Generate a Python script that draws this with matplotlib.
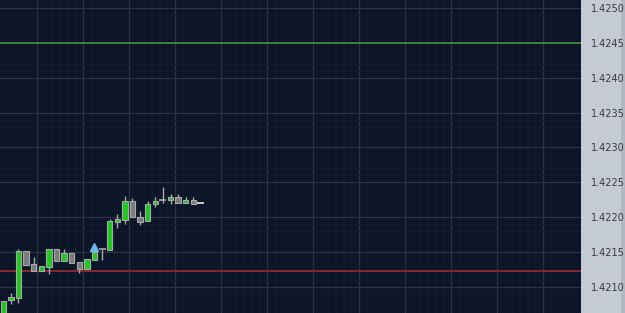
import numpy as np
import matplotlib
matplotlib.use("Agg")
import matplotlib.pyplot as plt

# OHLC per bar
opens = [1.42060, 1.42081, 1.42085, 1.42151, 1.42133, 1.42123, 1.42129, 1.42154, 1.42138,
         1.42149, 1.42136, 1.42126, 1.42139, 1.42154, 1.42153, 1.42193, 1.42196, 1.42224,
         1.42201, 1.42194, 1.42219, 1.42225, 1.42225, 1.42229, 1.42221, 1.42225, 1.42220]
highs = [1.42080, 1.42091, 1.42155, 1.42151, 1.42143, 1.42130, 1.42154, 1.42154, 1.42154,
         1.42149, 1.42136, 1.42140, 1.42150, 1.42154, 1.42198, 1.42204, 1.42230, 1.42228,
         1.42209, 1.42224, 1.42229, 1.42243, 1.42234, 1.42234, 1.42229, 1.42229, 1.42220]
lows = [1.42055, 1.42076, 1.42077, 1.42132, 1.42123, 1.42123, 1.42119, 1.42138, 1.42138,
        1.42135, 1.42120, 1.42126, 1.42139, 1.42139, 1.42153, 1.42185, 1.42191, 1.42200,
        1.42189, 1.42194, 1.42215, 1.42221, 1.42219, 1.42221, 1.42220, 1.42219, 1.42220]
closes = [1.42080, 1.42086, 1.42151, 1.42132, 1.42123, 1.42130, 1.42154, 1.42138, 1.42149,
          1.42135, 1.42126, 1.42140, 1.42150, 1.42154, 1.42194, 1.42197, 1.42224, 1.42200,
          1.42193, 1.42219, 1.42224, 1.42225, 1.42229, 1.42221, 1.42225, 1.42219, 1.42220]

upper_level = 1.42450
lower_level = 1.42123
signal_bar = 12
signal_price = 1.42157

y_ticks = [1.4210, 1.4215, 1.4220, 1.4225, 1.4230, 1.4235, 1.4240, 1.4245, 1.4250]

BG = "#0c1528"
PANEL = "#c4cbd4"
GREEN = "#1ec81e"
GRAY = "#7c7c7c"
EDGE = "#a8a8a8"

fig = plt.figure(figsize=(6.25, 3.13), dpi=100, facecolor=PANEL)

# darker strip on the far right edge of the price panel
strip = fig.add_axes([621 / 625, 0, 4 / 625, 1], zorder=-1)
strip.set_facecolor("#b0b8c3")
strip.set_axis_off()
strip.add_patch(plt.Rectangle((0, 0), 1, 1, color="#b0b8c3"))

ax = fig.add_axes([0, 0, 581 / 625, 1], zorder=1)
ax.set_facecolor(BG)

x = np.arange(len(opens))
o = np.array(opens)
c = np.array(closes)
h = np.array(highs)
l = np.array(lows)

# grid
ax.set_xlim(-0.43, 76.0)
ax.set_ylim(1.420628, 1.425114)
for gx in np.arange(4.43 - 6.05 * 5 / 6, 77, 6.05 / 6):
    ax.axvline(gx, color="#141c2f", lw=0.6, zorder=0)
for gx in np.arange(4.43, 77, 6.05):
    ax.axvline(gx, color="#2a3447", lw=0.9, zorder=0)
for gy in np.arange(1.4206, 1.4252, 0.0001):
    ax.axhline(gy, color="#141c2f", lw=0.6, zorder=0)
for gy in y_ticks:
    ax.axhline(gy, color="#2a3447", lw=0.9, zorder=0)

ax.axhline(upper_level, color="#3f8a46", lw=1.3, zorder=1)
ax.axhline(lower_level, color="#8e2a2e", lw=1.3, zorder=1)

# candles
up = c > o
down = c < o
flat = c == o
ax.vlines(x, l, h, color=EDGE, lw=1.0, zorder=2)
w = 0.72
ax.bar(x[up], (c - o)[up], bottom=o[up], width=w, color=GREEN, edgecolor=EDGE, lw=0.8, zorder=3)
ax.bar(x[down], (o - c)[down], bottom=c[down], width=w, color=GRAY, edgecolor=EDGE, lw=0.8, zorder=3)
flat_colors = ["#e8e8e8" if i == len(x) - 1 else EDGE for i in x[flat]]
ax.hlines(o[flat], x[flat] - 0.45, x[flat] + 0.45, colors=flat_colors, lw=1.2, zorder=3)

ax.plot([signal_bar], [signal_price], marker="^", ms=6, color="#6cb6ea", zorder=4)

ax.yaxis.tick_right()
ax.set_yticks(y_ticks)
ax.set_yticklabels([f"{v:.4f}" for v in y_ticks])
ax.tick_params(axis="y", length=0, pad=7, labelsize=7, labelcolor="#3a3a3a")
ax.set_xticks([])
for s in ax.spines.values():
    s.set_visible(False)

fig.savefig("out.png", dpi=100, facecolor=PANEL)
